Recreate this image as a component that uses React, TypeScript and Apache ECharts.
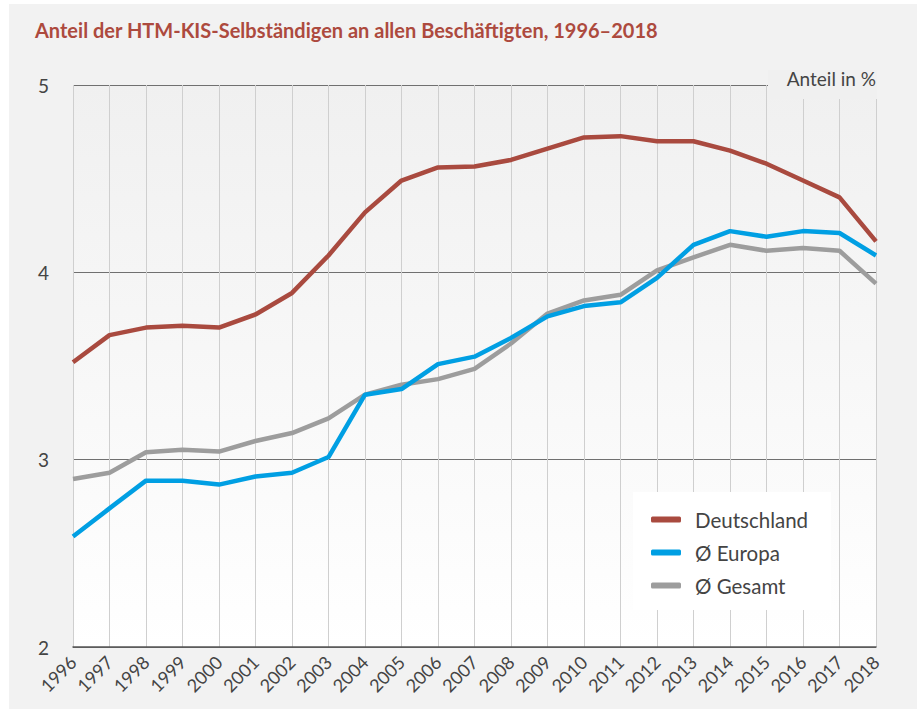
import React, { useEffect, useRef } from "react";
import * as echarts from "echarts";

const years = ["1996","1997","1998","1999","2000","2001","2002","2003","2004","2005","2006","2007","2008","2009","2010","2011","2012","2013","2014","2015","2016","2017","2018"];
const deutschland = [3.52, 3.665, 3.705, 3.715, 3.705, 3.775, 3.89, 4.09, 4.32, 4.49, 4.56, 4.565, 4.60, 4.66, 4.72, 4.727, 4.70, 4.70, 4.65, 4.58, 4.49, 4.40, 4.165];
const europa = [2.59, 2.74, 2.888, 2.888, 2.867, 2.91, 2.93, 3.014, 3.347, 3.377, 3.51, 3.55, 3.65, 3.765, 3.82, 3.84, 3.97, 4.147, 4.22, 4.19, 4.22, 4.21, 4.09];
const gesamt = [2.897, 2.93, 3.04, 3.053, 3.043, 3.10, 3.142, 3.22, 3.347, 3.40, 3.43, 3.485, 3.62, 3.78, 3.85, 3.88, 4.01, 4.08, 4.147, 4.115, 4.13, 4.115, 3.94];
const seriesNames = ["Deutschland", "Ø Europa", "Ø Gesamt"];
const titleText = "Anteil der HTM-KIS-Selbständigen an allen Beschäftigten, 1996–2018";
const unitText = "Anteil in %";

const FONT = "Lato, 'Open Sans', sans-serif";

export default function App() {
  const ref = useRef<HTMLDivElement>(null);
  useEffect(() => {
    if (!ref.current) return;
    const chart = echarts.init(ref.current, null, { renderer: "svg" });
    chart.setOption({
      animation: false,
      backgroundColor: "transparent",
      title: {
        text: titleText,
        left: 35,
        top: 20,
        padding: 0,
        textStyle: { fontFamily: FONT, fontWeight: "bold", fontSize: 20, color: "#ad4a3e" },
      },
      grid: {
        left: 73, right: 41, top: 85, bottom: 62,
        show: true, borderWidth: 0,
        backgroundColor: new echarts.graphic.LinearGradient(0, 0, 0, 1, [
          { offset: 0, color: "#f0f0f0" },
          { offset: 1, color: "#ffffff" },
        ]),
      },
      legend: {
        orient: "vertical",
        left: 633, top: 492,
        backgroundColor: "#ffffff",
        padding: [17, 23, 14, 18],
        itemWidth: 30, itemHeight: 6, itemGap: 12,
        icon: "roundRect",
        textStyle: { fontFamily: FONT, fontSize: 20.5, color: "#444444", lineHeight: 20, padding: [0, 0, 0, 9] },
        data: seriesNames,
      },
      xAxis: {
        type: "category",
        data: years,
        boundaryGap: false,
        axisLine: { show: true, lineStyle: { color: "#555555", width: 1.5 } },
        axisTick: { show: false },
        splitLine: { show: true, lineStyle: { color: "#cfcfcf", width: 1 } },
        axisLabel: { rotate: 45, fontFamily: FONT, fontSize: 18, color: "#444444", margin: 12, interval: 0 },
      },
      yAxis: {
        type: "value",
        min: 2, max: 5, interval: 1,
        axisLine: { show: false },
        axisTick: { show: false },
        splitLine: { show: true, lineStyle: { color: "#707070", width: 1 } },
        axisLabel: { fontFamily: FONT, fontSize: 19, color: "#444444", margin: 24 },
      },
      graphic: [
        {
          type: "rect", z: 10,
          shape: { x: 768, y: 70, width: 109, height: 29 },
          style: { fill: "#f0f0f0" },
        },
        {
          type: "text", z: 11,
          x: 876, y: 88,
          style: { text: unitText, fontFamily: FONT, fontSize: 19, fill: "#444444", align: "right", verticalAlign: "bottom" },
        },
      ],
      series: [
        { name: seriesNames[0], type: "line", data: deutschland, symbol: "none", z: 4, color: "#a94a3f", lineStyle: { width: 4.5, color: "#a94a3f" } },
        { name: seriesNames[1], type: "line", data: europa, symbol: "none", z: 3, color: "#009fe3", lineStyle: { width: 4.5, color: "#009fe3" } },
        { name: seriesNames[2], type: "line", data: gesamt, symbol: "none", z: 2, color: "#9d9d9d", lineStyle: { width: 4.5, color: "#9d9d9d" } },
      ],
    });
    return () => chart.dispose();
  }, []);
  return (
    <div style={{ position: "fixed", left: 0, top: 0, width: 917, height: 709, background: "#ffffff" }}>
      <div style={{ position: "absolute", left: 9, top: 4, width: 908, height: 705, background: "#f2f2f2" }} />
      <div ref={ref} style={{ position: "absolute", left: 0, top: 0, width: 917, height: 709 }} />
    </div>
  );
}
